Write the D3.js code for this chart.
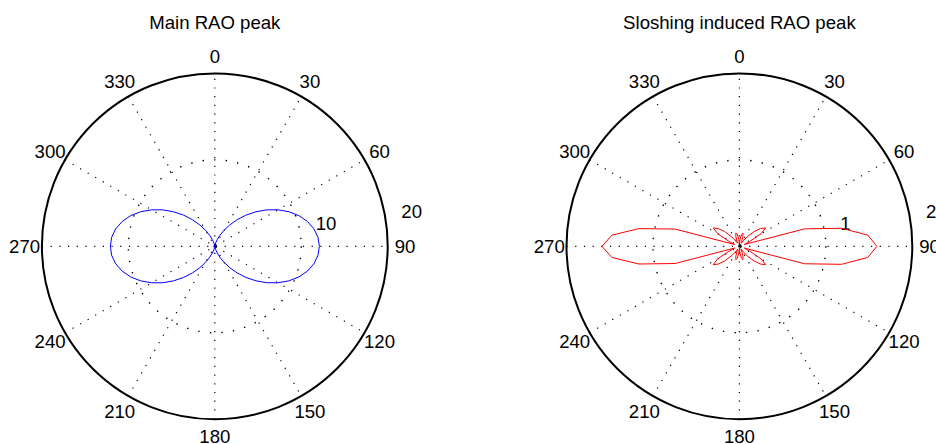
<!DOCTYPE html>
<html>
<head>
<meta charset="utf-8">
<script src="https://cdn.jsdelivr.net/npm/d3@7"></script>
<style>
  html, body { margin: 0; padding: 0; background: #fff; }
  svg { display: block; }
  text { font-family: 'Liberation Sans', Arial, Helvetica, sans-serif; fill: #000; }
</style>
</head>
<body>
<svg id="chart" width="936" height="444"></svg>
<script>
// Heading angles (degrees, 0 = north, clockwise), 5 degree steps
const headingDeg = d3.range(0, 361, 5);

// Main RAO peak amplitude per heading
const mainRao = [
  0.00, 0.03, 0.15, 0.41, 0.83, 1.40, 2.14, 3.02, 4.01, 5.09, 6.21, 7.35, 8.44, 9.46, 10.36, 11.09, 11.64, 11.98, 12.10,
  11.98, 11.64, 11.09, 10.36, 9.46, 8.44, 7.35, 6.21, 5.09, 4.01, 3.02, 2.14, 1.40, 0.83, 0.41, 0.15, 0.03, 0.00,
  0.03, 0.15, 0.41, 0.83, 1.40, 2.14, 3.02, 4.01, 5.09, 6.21, 7.35, 8.44, 9.46, 10.36, 11.09, 11.64, 11.98, 12.08,
  11.98, 11.64, 11.09, 10.36, 9.46, 8.44, 7.35, 6.21, 5.09, 4.01, 3.02, 2.14, 1.40, 0.83, 0.41, 0.15, 0.03, 0.00
];

// Sloshing induced RAO peak amplitude per heading
const sloshRao = [
  0.02, 0.08, 0.14, 0.16, 0.12, 0.06, 0.04, 0.08, 0.15, 0.24, 0.32, 0.37, 0.29, 0.13, 0.06, 0.78, 1.20, 1.49, 1.59,
  1.49, 1.20, 0.78, 0.06, 0.13, 0.29, 0.37, 0.32, 0.24, 0.15, 0.08, 0.04, 0.06, 0.12, 0.16, 0.14, 0.08, 0.02,
  0.08, 0.14, 0.16, 0.12, 0.06, 0.04, 0.08, 0.15, 0.24, 0.32, 0.37, 0.29, 0.13, 0.06, 0.77, 1.18, 1.48, 1.59,
  1.48, 1.18, 0.77, 0.06, 0.13, 0.29, 0.37, 0.32, 0.24, 0.15, 0.08, 0.04, 0.06, 0.12, 0.16, 0.14, 0.08, 0.02
];

// Axis labels
const panelTitles = ["Main RAO peak", "Sloshing induced RAO peak"];
const angleTicks = d3.range(0, 360, 30);
const radialMax = [20, 2];
const radialTicks = [[10, 20], [1, 2]];
const seriesColors = ["#0000ff", "#ff0000"];
const seriesData = [mainRao, sloshRao];

// Layout
const layout = { centers: [214.8, 739.4], cy: 246.3, radius: 172.9, fontSize: 18.6 };

const svg = d3.select("#chart");
const toRad = d => d * Math.PI / 180;

panelTitles.forEach((title, i) => {
  const R = layout.radius;
  const r = d3.scaleLinear().domain([0, radialMax[i]]).range([0, R]);
  const g = svg.append("g").attr("transform", `translate(${layout.centers[i]},${layout.cy})`);

  // Spokes every 30 degrees through the centre
  const spokeAngles = d3.range(0, 180, 30);
  g.selectAll("line.spoke").data(spokeAngles).join("line")
    .attr("class", "spoke")
    .attr("x1", a => -R * Math.sin(toRad(a)))
    .attr("y1", a => R * Math.cos(toRad(a)))
    .attr("x2", a => R * Math.sin(toRad(a)))
    .attr("y2", a => -R * Math.cos(toRad(a)))
    .attr("stroke", "#000")
    .attr("stroke-width", 1.2)
    .attr("stroke-dasharray", "1.2 7.5");

  // Dotted inner ring
  g.selectAll("circle.ring").data(radialTicks[i].filter(t => t < radialMax[i])).join("circle")
    .attr("class", "ring")
    .attr("r", t => r(t))
    .attr("fill", "none")
    .attr("stroke", "#000")
    .attr("stroke-width", 1.4)
    .attr("stroke-dasharray", "1.4 10.2");

  // Solid outer boundary
  g.append("circle")
    .attr("r", R)
    .attr("fill", "none")
    .attr("stroke", "#000")
    .attr("stroke-width", 2);

  // Centre mark where the spokes cross
  g.append("circle")
    .attr("r", 1.3)
    .attr("fill", "#000");

  // Angle labels
  g.selectAll("text.angle").data(angleTicks).join("text")
    .attr("class", "angle")
    .attr("x", a => 1.1 * R * Math.sin(toRad(a)))
    .attr("y", a => -1.1 * R * Math.cos(toRad(a)) + 0.358 * layout.fontSize)
    .attr("text-anchor", "middle")
    .attr("font-size", layout.fontSize)
    .text(a => a);

  // Radial tick labels along the 82 degree ray
  const rinc = radialTicks[i][0];
  g.selectAll("text.rtick").data(radialTicks[i]).join("text")
    .attr("class", "rtick")
    .attr("x", t => r(t + rinc / 20) * Math.sin(toRad(82)) + 11)
    .attr("y", t => -r(t + rinc / 20) * Math.cos(toRad(82)) - 4)
    .attr("text-anchor", "start")
    .attr("font-size", layout.fontSize)
    .text(t => t);

  // RAO curve
  const pts = headingDeg.map((a, k) => [toRad(a), seriesData[i][k]]);
  const radial = d3.lineRadial()
    .angle(d => d[0])
    .radius(d => r(d[1]))
    .curve(d3.curveLinear);
  g.append("path")
    .attr("d", radial(pts))
    .attr("fill", "none")
    .attr("stroke", seriesColors[i])
    .attr("stroke-width", 1)
    .attr("stroke-linejoin", "miter");

  // Title
  svg.append("text")
    .attr("x", layout.centers[i])
    .attr("y", 28.5)
    .attr("text-anchor", "middle")
    .attr("font-size", layout.fontSize)
    .text(title);
});
</script>
</body>
</html>
